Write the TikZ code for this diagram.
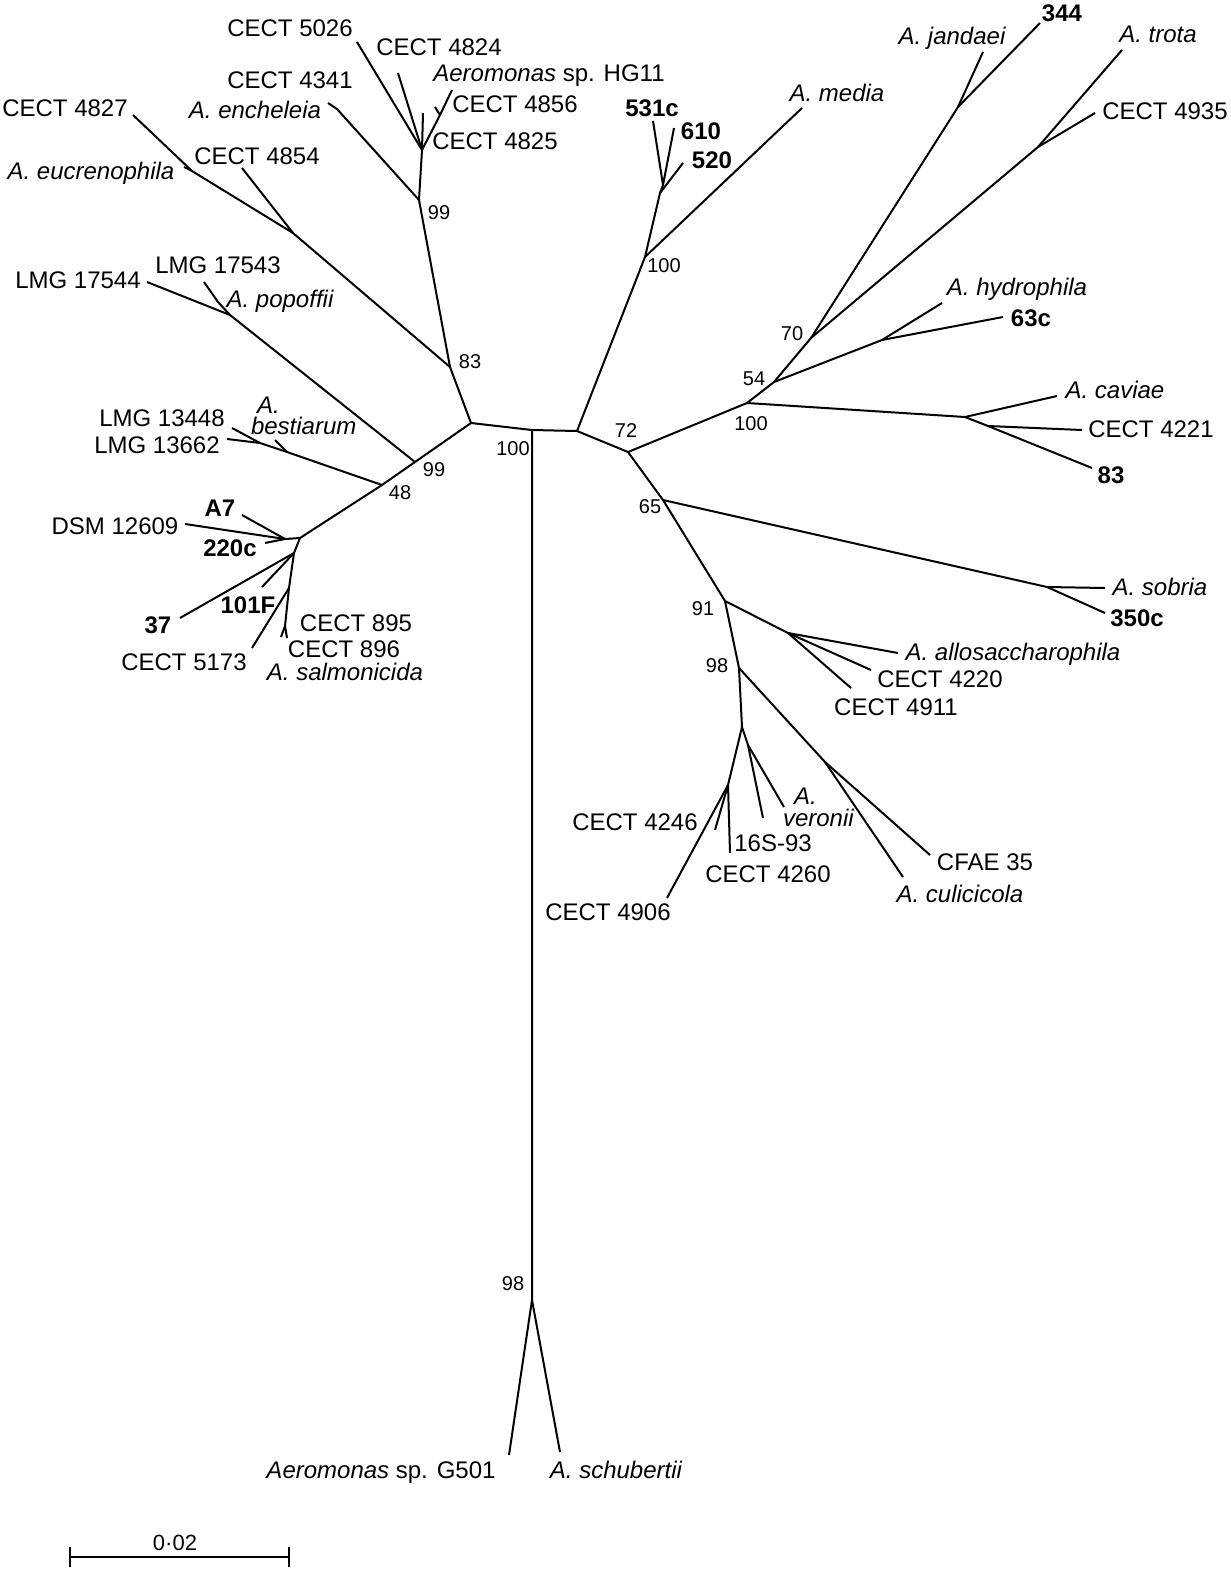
\documentclass[tikz,border=0pt]{standalone}
\usepackage{fontspec}
\setmainfont{Liberation Sans}
\begin{document}
\begin{tikzpicture}[x=1pt,y=-1pt,line width=2pt,line join=round,
  lab/.style={inner sep=0pt,text height=17pt,text depth=0pt,font=\fontsize{24}{21}\selectfont},
  sp/.style={lab,font=\fontsize{24}{21}\selectfont\itshape},
  iso/.style={lab,font=\fontsize{24}{21}\selectfont\bfseries},
  boot/.style={inner sep=0pt,text height=14.3pt,text depth=0pt,font=\fontsize{20}{20}\selectfont}]
\useasboundingbox (0,0) rectangle (1231,1577);
% backbone
\coordinate (L) at (471,423); \coordinate (M) at (532,430); \coordinate (R) at (577,431);
\coordinate (n83) at (450,367); \coordinate (n99a) at (419,200); \coordinate (T1) at (422,150);
\coordinate (t5026) at (357,42); \coordinate (t4824) at (398,73); \coordinate (tHG) at (423,113);
\coordinate (t56) at (440,115); \coordinate (t4856) at (452,90); \coordinate (tTick) at (435,107);
\coordinate (Ec) at (337,109); \coordinate (tEnch) at (328,103);
\coordinate (E2) at (293,233); \coordinate (E1) at (192,171); \coordinate (t4827) at (133,115);
\coordinate (tEuc) at (184,167); \coordinate (t4854) at (242,168);
\coordinate (P) at (415,462); \coordinate (Pp) at (230,315); \coordinate (t17544) at (147,282);
\coordinate (Pk) at (218,302); \coordinate (t17543) at (204,282);
\coordinate (B) at (382,485); \coordinate (Bs) at (287,452); \coordinate (tBest) at (275,440);
\coordinate (Bs2) at (260,443); \coordinate (t13448) at (232,428); \coordinate (t13662) at (227,439);
\coordinate (S) at (300,538); \coordinate (S1) at (285,539); \coordinate (tA7) at (242,515);
\coordinate (tDSM) at (185,524); \coordinate (t220) at (265,543);
\coordinate (S2) at (294,553); \coordinate (t37) at (180,618); \coordinate (t101) at (262,587);
\coordinate (S3) at (289,588); \coordinate (t5173) at (252,648); \coordinate (S4) at (285,626);
\coordinate (t895) at (281,637); \coordinate (t896) at (287,638);
\coordinate (n100m) at (645,257); \coordinate (Md1) at (660,193); \coordinate (Md1a) at (663,185);
\coordinate (t531) at (653,121); \coordinate (t610) at (674,128); \coordinate (t520) at (683,163);
\coordinate (tMedia) at (802,108);
\coordinate (N72) at (628,452); \coordinate (N100b) at (747,403); \coordinate (n54) at (774,382);
\coordinate (n70) at (811,338); \coordinate (J) at (958,107); \coordinate (tJand) at (983,52);
\coordinate (t344) at (1040,23); \coordinate (Tr) at (1038,147); \coordinate (tTrota) at (1122,50);
\coordinate (t4935) at (1095,113);
\coordinate (Hy) at (882,340); \coordinate (tHyd) at (942,303); \coordinate (t63c) at (1003,317);
\coordinate (Cv) at (965,417); \coordinate (tCav) at (1057,396); \coordinate (Cv2) at (988,426);
\coordinate (t4221) at (1082,430); \coordinate (t83) at (1092,468);
\coordinate (n65) at (663,500); \coordinate (Sb) at (1047,587); \coordinate (tSob) at (1105,588);
\coordinate (t350) at (1105,613);
\coordinate (n91) at (725,601); \coordinate (Al) at (788,633); \coordinate (tAllo) at (898,653);
\coordinate (t4220) at (871,670); \coordinate (t4911) at (851,688);
\coordinate (n98r) at (739,668); \coordinate (V) at (742,727); \coordinate (V1) at (748,745);
\coordinate (tVer) at (784,807); \coordinate (t16S) at (763,818); \coordinate (V2) at (728,785);
\coordinate (t4260) at (730,853); \coordinate (t4246) at (715,830); \coordinate (t4906) at (667,898);
\coordinate (Cu) at (825,762); \coordinate (tCul) at (903,877); \coordinate (tCFAE) at (930,855);
\coordinate (Bt) at (532,1300); \coordinate (tG501) at (509,1455); \coordinate (tSchu) at (560,1452);
\coordinate (sb1) at (70,1557); \coordinate (sb2) at (289,1557);

\draw (L) -- (M) -- (R);
\draw (M) -- (Bt) -- (tG501); \draw (Bt) -- (tSchu);
\draw (L) -- (n83) -- (n99a) -- (T1) -- (t5026); \draw (T1) -- (t4824); \draw (T1) -- (tHG);
\draw (T1) -- (t56) -- (t4856); \draw (t56) -- (tTick);
\draw (n99a) -- (Ec) -- (tEnch);
\draw (n83) -- (E2) -- (E1) -- (t4827); \draw (E1) -- (tEuc); \draw (E2) -- (t4854);
\draw (L) -- (P) -- (B) -- (S);
\draw (P) -- (Pp) -- (t17544); \draw (Pp) -- (Pk) -- (t17543);
\draw (B) -- (Bs) -- (tBest); \draw (Bs) -- (Bs2) -- (t13448); \draw (Bs2) -- (t13662);
\draw (S) -- (S1) -- (tA7); \draw (S1) -- (tDSM); \draw (S1) -- (t220);
\draw (S) -- (S2) -- (t37); \draw (S2) -- (t101);
\draw (S2) -- (S3) -- (t5173); \draw (S3) -- (S4) -- (t895); \draw (S4) -- (t896);
\draw (R) -- (n100m) -- (tMedia); \draw (n100m) -- (Md1) -- (t520);
\draw (Md1) -- (Md1a) -- (t531); \draw (Md1a) -- (t610);
\draw (R) -- (N72) -- (N100b) -- (n54) -- (n70) -- (J) -- (tJand); \draw (J) -- (t344);
\draw (n70) -- (Tr) -- (tTrota); \draw (Tr) -- (t4935);
\draw (n54) -- (Hy) -- (tHyd); \draw (Hy) -- (t63c);
\draw (N100b) -- (Cv) -- (tCav); \draw (Cv) -- (Cv2) -- (t83); \draw (Cv2) -- (t4221);
\draw (N72) -- (n65) -- (Sb) -- (tSob); \draw (Sb) -- (t350);
\draw (n65) -- (n91) -- (Al) -- (tAllo); \draw (Al) -- (t4220); \draw (Al) -- (t4911);
\draw (n91) -- (n98r) -- (V) -- (V1) -- (tVer); \draw (V1) -- (t16S);
\draw (V) -- (V2) -- (t4906); \draw (V2) -- (t4260); \draw (V2) -- (t4246);
\draw (n98r) -- (Cu) -- (tCFAE); \draw (Cu) -- (tCul);
\draw (sb1) -- (sb2); \draw (sb1) ++(0,-10) -- ++(0,20); \draw (sb2) ++(0,-10) -- ++(0,20);

% labels
\node[lab] (lb5026) at (290,28) {CECT 5026};
\node[lab] (lb4824) at (439,47) {CECT 4824};
\node[lab] (lbHG) at (549,73) {\textit{Aeromonas} sp. HG11};
\node[lab] (lb4856) at (515,104) {CECT 4856};
\node[lab] (lb4825) at (495,141) {CECT 4825};
\node[lab] (lb4341) at (290,80) {CECT 4341};
\node[sp] (lbEnch) at (255,110) {A. encheleia};
\node[lab] (lb4827) at (65,108) {CECT 4827};
\node[sp] (lbEuc) at (91,171) {A. eucrenophila};
\node[lab] (lb4854) at (257,156) {CECT 4854};
\node[lab] (lb17544) at (78,280) {LMG 17544};
\node[lab] (lb17543) at (218,265) {LMG 17543};
\node[sp] (lbPop) at (280,299) {A. popoffii};
\node[lab] (lb13448) at (162,418) {LMG 13448};
\node[lab] (lb13662) at (157,445) {LMG 13662};
\node[sp,anchor=west] (lbBestA) at (256,405) {A.};
\node[sp,anchor=west] (lbBest) at (250,426) {bestiarum};
\node[iso] (lbA7) at (220,508) {A7};
\node[lab] (lbDSM) at (115,526) {DSM 12609};
\node[iso] (lb220) at (230,548) {220c};
\node[iso] (lb37) at (158,625) {37};
\node[iso] (lb101) at (248,605) {101F};
\node[lab] (lb5173) at (184,662) {CECT 5173};
\node[lab] (lb895) at (356,623) {CECT 895};
\node[lab] (lb896) at (344,649) {CECT 896};
\node[sp] (lbSal) at (345,672) {A. salmonicida};
\node[iso] (lb531) at (652,108) {531c};
\node[iso] (lb610) at (701,131) {610};
\node[iso] (lb520) at (712,160) {520};
\node[sp] (lbMedia) at (837,93) {A. media};
\node[sp] (lbJand) at (952,36) {A. jandaei};
\node[iso] (lb344) at (1062,13) {344};
\node[sp] (lbTrota) at (1158,34) {A. trota};
\node[lab] (lb4935) at (1165,111) {CECT 4935};
\node[sp] (lbHyd) at (1017,287) {A. hydrophila};
\node[iso] (lb63c) at (1031,318) {63c};
\node[sp] (lbCav) at (1115,390) {A. caviae};
\node[lab] (lb4221) at (1151,429) {CECT 4221};
\node[iso] (lb83) at (1111,475) {83};
\node[sp] (lbSob) at (1160,587) {A. sobria};
\node[iso] (lb350) at (1137,618) {350c};
\node[sp] (lbAllo) at (1013,652) {A. allosaccharophila};
\node[lab] (lb4220) at (940,679) {CECT 4220};
\node[lab] (lb4911) at (896,707) {CECT 4911};
\node[sp,anchor=west] (lbVerA) at (793,796) {A.};
\node[sp,anchor=west] (lbVer) at (782,818) {veronii};
\node[lab] (lb4246) at (635,822) {CECT 4246};
\node[lab] (lb16S) at (773,843) {16S-93};
\node[lab] (lb4260) at (768,874) {CECT 4260};
\node[lab] (lbCFAE) at (985,862) {CFAE 35};
\node[sp] (lbCul) at (960,894) {A. culicicola};
\node[lab] (lb4906) at (608,912) {CECT 4906};
\node[lab] (lbG501) at (381,1470) {\textit{Aeromonas} sp. G501};
\node[sp] (lbSchu) at (616,1470) {A. schubertii};
\node[lab,font=\fontsize{22}{22}\selectfont] (lbScale) at (175,1542) {0·02};

% bootstrap values
\node[boot] (bs99a) at (439,212) {99};
\node[boot] (bs83) at (470,361) {83};
\node[boot] (bs99b) at (434,469) {99};
\node[boot] (bs48) at (400,492) {48};
\node[boot] (bs100c) at (513,448) {100};
\node[boot] (bs72) at (626,430) {72};
\node[boot] (bs100m) at (664,265) {100};
\node[boot] (bs54) at (754,378) {54};
\node[boot] (bs70) at (792,333) {70};
\node[boot] (bs100r) at (751,423) {100};
\node[boot] (bs65) at (650,506) {65};
\node[boot] (bs91) at (703,608) {91};
\node[boot] (bs98r) at (717,665) {98};
\node[boot] (bs98b) at (513,1283) {98};
\end{tikzpicture}
\end{document}
